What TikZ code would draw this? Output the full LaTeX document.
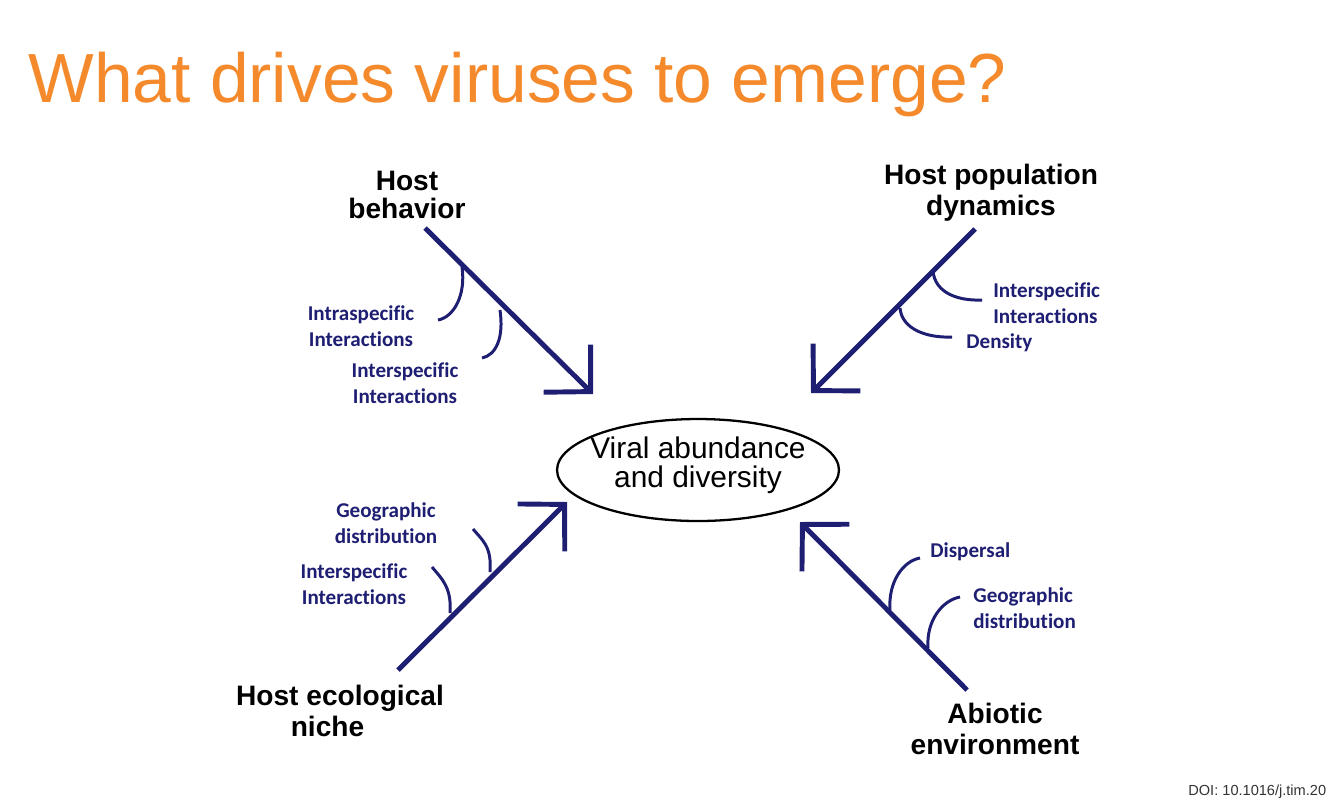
\documentclass[tikz,border=0pt]{standalone}
\usepackage{fontspec}
\setmainfont{Liberation Sans}
\newfontfamily\labelfont[Ligatures=NoCommon]{Carlito}
\usetikzlibrary{arrows.meta,shapes.geometric}
\definecolor{navy}{RGB}{30,30,115}
\definecolor{titleorange}{RGB}{244,138,44}
\tikzset{bigarrow/.style={draw=navy, line width=2.8pt,
  -{Straight Barb[length=6.6mm, width=13.4mm]}}}
\tikzset{branch/.style={draw=navy, line width=1.7pt}}
\tikzset{factor/.style={font=\labelfont\bfseries\fontsize{12}{14.5}\selectfont, text=navy, inner sep=0pt}}
\tikzset{driver/.style={font=\bfseries\fontsize{16}{17.5}\selectfont, align=center, inner sep=0pt}}

\begin{document}
\begin{tikzpicture}[x=0.02cm, y=-0.02cm]
      \useasboundingbox (0, 0) rectangle (1334, 799);

      \node [anchor = base west, text=titleorange, font=\fontsize{39.6}{44}\selectfont, inner sep=0pt] (title) at (28, 102) {What drives viruses to emerge?};

      % centre
      \node [draw, ellipse, line width=1.3pt, minimum width=5.64cm, minimum height=2.04cm] (viral) at (698, 470) {};
      \node [align=center, inner sep=0pt, font=\fontsize{17}{16.5}\selectfont] (viraltext) at (viral.center) [yshift=0.1cm] {Viral abundance\\and diversity};

      % drivers
      \node [driver, font=\bfseries\fontsize{16}{16}\selectfont] (behav) at (407, 195) {Host\\behavior};
      \node [driver] (popdyn) at (991, 193) {Host population\\dynamics};
      \node [driver] (niche) at (340, 711) {Host ecological\\niche\hspace*{0.5cm}};
      \node [driver] (abiotic) at (995, 729) {Abiotic\\environment};

      % arrows
      \coordinate (a1) at (425, 228);  \coordinate (t1) at (593, 394);
      \coordinate (a2) at (975, 229);  \coordinate (t2) at (811, 393);
      \coordinate (a3) at (398, 670);  \coordinate (t3) at (567, 502);
      \coordinate (a4) at (967, 690);  \coordinate (t4) at (800, 522);
      \draw [bigarrow] (a1) -- (t1);
      \draw [bigarrow] (a2) -- (t2);
      \draw [bigarrow] (a3) -- (t3);
      \draw [bigarrow] (a4) -- (t4);

      % branches
      \coordinate (b1) at (462, 267);  \coordinate (c1) at (438, 320);
      \coordinate (b2) at (500, 310);  \coordinate (c2) at (482, 358);
      \coordinate (b3) at (933, 271);  \coordinate (c3) at (982, 300);
      \coordinate (b4) at (900, 308);  \coordinate (c4) at (952, 337);
      \coordinate (b5) at (490, 572);  \coordinate (c5) at (473, 529);
      \coordinate (b6) at (450, 613);  \coordinate (c6) at (432, 567);
      \coordinate (b7) at (890, 610);  \coordinate (c7) at (920, 558);
      \coordinate (b8) at (928, 648);  \coordinate (c8) at (960, 597);
      \draw [branch] (b1) .. controls +(4, 28) and +(16, -3) .. (c1);
      \draw [branch] (b2) .. controls +(4, 28) and +(14, -3) .. (c2);
      \draw [branch] (b3) .. controls +(2, 22) and +(-24, 1) .. (c3);
      \draw [branch] (b4) .. controls +(2, 22) and +(-24, 1) .. (c4);
      \draw [branch] (b5) .. controls +(2, -26) and +(9, 11) .. (c5);
      \draw [branch] (b6) .. controls +(2, -26) and +(9, 11) .. (c6);
      \draw [branch] (b7) .. controls +(-2, -28) and +(-17, 3) .. (c7);
      \draw [branch] (b8) .. controls +(-2, -28) and +(-17, 3) .. (c8);

      % factors
      \node [factor, align=center] (intra1) at (361, 326) {Intraspecific\\Interactions};
      \node [factor, align=center] (inter1) at (405, 383) {Interspecific\\Interactions};
      \node [factor, align=left, anchor=west] (inter2) at (993, 303) {Interspecific\\Interactions};
      \node [factor, anchor=west] (dens) at (966, 343) {Density};
      \node [factor, align=center] (geo3) at (386, 523) {Geographic\\distribution};
      \node [factor, align=center] (inter3) at (354, 584) {Interspecific\\Interactions};
      \node [factor, anchor=west] (disp) at (930, 552) {Dispersal};
      \node [factor, align=left, anchor=west] (geo4) at (973, 608) {Geographic\\distribution};

      \node [anchor=south west, inner sep=0pt, text=black!80, font=\fontsize{8.3}{10}\selectfont] (doi) at (1188, 799) {DOI: 10.1016/j.tim.20};

\end{tikzpicture}
\end{document}
